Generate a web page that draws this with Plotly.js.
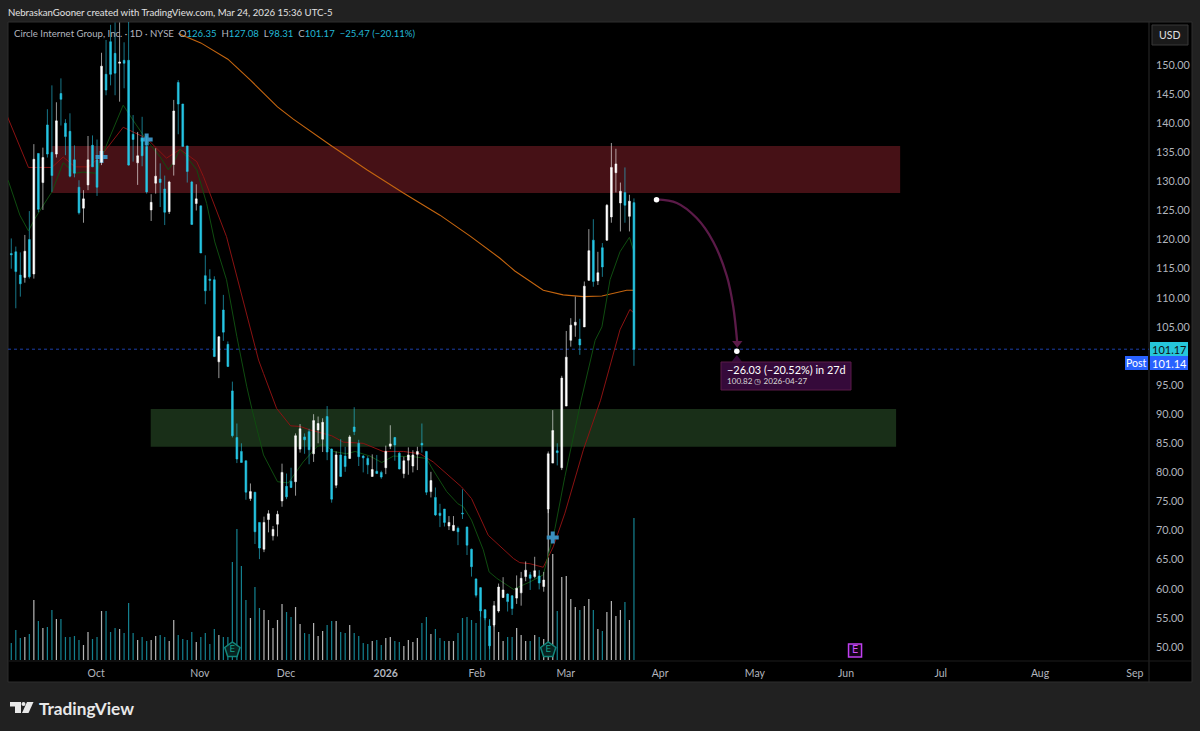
<!DOCTYPE html>
<html><head><meta charset="utf-8">
<script src="https://cdn.plot.ly/plotly-3.0.1.min.js"></script>
<style>html,body{margin:0;padding:0;background:#212121;overflow:hidden}#c{width:1200px;height:731px}</style>
</head><body><div id="c"></div>
<script>
const opens=[117.6,117.9,113.9,113.5,120.0,114.1,134.8,129.8,139.7,135,
134.7,145.1,140,138.6,133.7,129,125.4,129.4,136.2,133.7,
133.3,148.4,154,152,150.3,150.8,150.8,138.1,133.2,137.4,
136,125.1,129.7,130.4,128.7,124.8,132.9,147,143.3,136.1,
129.9,126.2,125.8,113.8,113.2,113.1,99.0,107.9,102,94,
86,83.6,82,75.5,76.6,71.4,66.8,71.9,69.1,71.1,
75.1,77.6,78.5,78.4,84,86.1,87,83.2,87.3,85.7,
89.6,84,77.8,83,82.8,82.4,87.8,85,82.8,82.4,
79.3,80.2,80,80.8,84.5,86,83.3,79.8,82.1,81.1,
83.1,85,83.6,76.7,75.7,73,73.7,70.8,70,70.4,
73,70.6,66.8,61.7,60.2,56.4,53.6,53.8,56.2,58.5,
59.1,58.8,58.4,59.3,62.1,62.4,62.1,62.2,60.4,73.7,
81.6,83.7,80.8,91.4,102.7,105.3,102.9,105,113,119.9,
112.9,118.6,119.9,123.9,131.5,126.3,128.1,124,126.35];
const highs=[120.2,118.8,117.8,120.8,124.9,136.4,134.8,135.8,142.4,146.5,
143.6,147.7,140.7,141.7,136.2,130.2,128.5,137.8,137.9,137.2,
152.1,154.3,156.9,157.3,157.3,153.9,158,141.4,138.5,141.1,
137.8,127.8,135.7,133.1,131,130.1,144,147.4,143.3,136.1,
130.1,129.5,125.8,117.3,114.9,113.7,103.4,110.5,102.5,95.6,
88.4,85,82,78.1,76.6,71.4,72.4,73.5,70.8,73.4,
81.5,79.8,80.8,86.7,88.3,86.7,87.5,90,89.6,89.3,
91.4,84.1,83.6,85.7,84.4,86.4,91.2,85.6,83,82.8,
83.1,83,80.3,84.6,88.1,86.1,83.5,82.7,84.3,83.8,
84.4,88.4,83.7,80.1,77.4,74.6,73.7,72.5,72.5,70.7,
77.1,70.7,66.9,61.8,60.3,56.5,54.6,57.9,60.9,62,
59.2,58.9,62.3,62.9,64.7,62.9,65.5,63.2,62.9,83.6,
90.7,85,96.6,104.3,106.5,110.2,106.4,112.8,121.8,123.5,
117.9,119.4,126.1,136.6,135.6,129.8,132.4,127.7,127.08];
const lows=[115,108.2,110.2,112.6,113.3,113.3,124.7,125.1,134.1,128.2,
134.1,139.6,134.5,130.7,130.7,124.3,122.9,128.5,132.5,127.5,
132.8,144.8,146.5,144.8,143.7,146,132.7,133.4,129.4,132.6,
127.9,123.2,127.9,125.6,122.5,124.4,131,138.1,136,129.8,
122.6,125,117.7,108.9,111.2,100,96.2,102.6,98.1,86,
81.6,81.7,75.3,75.1,67.7,65.1,66.3,69.7,68.3,69,
74.1,75.4,77.3,76,83.4,83.2,81.4,81.8,85,83.5,
82.1,74.8,77.3,79.2,80.1,82.3,86.4,81.1,80,79.7,
79.3,79.8,78.9,79.7,84,82,80.5,79,79.6,80,
80.4,83.4,76.1,75.7,72.5,70.6,70.7,70.1,69.9,67.5,
72,65.8,62.1,58.5,55.2,54.6,49.7,53.5,55.9,58.4,
56.1,55.5,57.4,57.1,61.3,59.8,61.8,59.9,59.5,73,
81.6,81.2,80.4,91.4,101.6,103.3,100.2,105,112.9,111.9,
112.2,113.6,119.8,122.9,128.1,121.4,122.9,121.4,98.31];
const closes=[117.4,114.5,112.4,118,113.6,133.8,125.2,134.1,134.7,131,
140.4,144.1,137.7,130.9,131.4,124.6,127,133.7,132.5,129,
149.8,145.7,148.4,148.6,150.5,150.3,132.8,137.2,134.4,134.4,
128.2,126.4,130.9,129.8,124.7,129.9,142.1,143.3,136,131.7,
122.6,127,117.7,111.2,113,99.9,103.3,104.1,98.2,86.3,
82.3,81.7,76.6,76.7,69.8,67,71.4,72.9,70.2,72.8,
80,75.8,77.4,86.3,87.5,85.6,83.9,88.9,88.4,88.6,
83.5,75.4,83,79.3,81,86.1,87,82.7,82.5,81.3,
80.5,79.8,79.2,83.6,84.9,84.7,80.6,82,83,83,
83.6,84.7,76.6,78.6,72.7,72.6,71.4,71.4,70.9,69.8,
72.9,67.5,63.8,58.9,56.2,55,50.2,57.1,60.3,59.8,
57.8,56.6,60.1,61.8,63.2,61.8,63.1,61,61.5,83.2,
87.2,83.4,96.2,99.8,105.3,105.8,101.9,112,118.1,112.8,
114.3,115.3,125.9,132.4,133,128.3,125.9,126.6,101.17];
const volumes=[17,30,22,23,26,60,39,32,33,50,
41,41,23,23,24,20,15,28,21,23,
49,49,28,32,31,27,57,27,20,23,
19,20,24,25,23,19,40,25,21,20,
28,18,23,27,16,31,25,23,23,98,
131,94,60,42,73,52,50,40,32,40,
56,48,43,53,36,27,26,37,24,29,
35,39,39,28,27,35,27,24,17,16,
19,20,15,22,23,19,18,14,20,18,
22,37,43,26,31,22,19,19,19,27,
42,43,40,37,51,43,41,36,28,19,
23,23,32,25,19,19,25,23,21,160,
106,49,83,84,61,53,50,54,61,50,
31,29,48,59,44,50,58,40,142];
const longMaBars=[37,42,48,53,59,62.5,70.6,78.8,86.9,95,101.7,108.3,111.6,115,117.9,122.3,126.8,130.9,134.2,136.4,138];
const longMaVals=[155.4,153.8,151,147.4,142.8,140.7,136.3,132,128,124.2,120.6,116.8,114.6,112.9,111.3,110.5,110.2,110.3,110.9,111.3,111.3];
const redMaBars=[-1,1.9,3.8,5.6,9,11.5,14.1,17.1,19.7,24.8,30,34.4,37.4,41.1,42.6,47.7,50,54.8,55.9,58.8,61.9,64,66.2,71,73.6,78,82.4,86.9,90.6,93.5,99.8,102,105.7,111.3,112.7,115,117.9,120.1,122.7,126.8,130.6,134.9,137.1,138];
const redMaVals=[141.4,136,132.4,132.4,132.4,134.2,132.5,132.5,134.2,139.3,137.4,134,135.5,133.4,130.8,120.5,113.6,99.3,97,91,88,87.9,87.3,86.3,85.2,85,83.6,83.6,83.2,81.8,77.5,75.5,69.2,65.2,64.5,64.3,63.7,67.2,73,83.9,92.4,104.5,108,107.4];
const greenMaBars=[-0.7,1.9,3.8,5.3,7.1,9,11.5,14.1,15.9,18.9,20,24.8,27,30,33,34.8,35.9,37.4,38.9,41.1,43.3,45.1,47.7,50,52.2,53.3,55.9,59,61.4,62.9,64.7,67.7,69.2,71.4,74.3,76.2,79.5,82.1,84.7,89.1,92,93.5,96.5,99,100.2,102,104.6,105.9,107.6,111.3,115,117.9,120.5,122.7,126.3,129.4,130.9,132.7,134.9,137,138];
const greenMaVals=[130.2,124.2,121.5,123.7,125.9,128.2,133.2,131.4,131.6,131.4,134.2,143.1,140.5,137.1,134.2,132,133.2,135.5,134.2,132,126.2,119.6,113.1,103.3,94.7,91,83,78.4,78.2,79.8,81.8,84.4,84.9,83.6,83.2,83.6,82.8,81.7,82.8,82.7,82.4,80.4,76.7,74.6,74.1,71.8,66.7,62.9,61.8,59.9,61.2,62.4,70.4,79.3,92.4,102.7,105,113.1,117.9,120.4,117.9];
const projectionBars=[143,147.5,151.9,155.6,158.6,160,160.9];
const projectionVals=[126.9,126.3,123.7,119.6,113.7,108.5,102.2];
const monthBars=[18.8,41.8,60.9,83,103.2,122.9,143.8,164.8,185,206,228,249];
const monthLabels=['Oct','Nov','Dec','<b>2026</b>','Feb','Mar','Apr','May','Jun','Jul','Aug','Sep'];
const priceTicks=[50,55,60,65,70,75,80,85,90,95,105,110,115,120,125,130,135,140,145,150];
const splitBars=[20,30,120], splitVals=[134.2,137.2,68.8];
const earnBars=[49,119], earnVals=[49.5,49.5];
const futureEarnBars=[187], futureEarnVals=[49.4];
const lastClose=101.17;

const UP='#ffffff',DOWN='#26c6e4',VUP='#b4b4b4',VDOWN='#14808f';
const bars=opens.map((_,i)=>i);
const px=x=>(x-8)/1141, py=y=>(660-y)/638;
const rectP=(x0,y0,x1,y1,fill,line)=>({type:'rect',xref:'paper',yref:'paper',x0:px(x0),x1:px(x1),y0:py(y0),y1:py(y1),fillcolor:fill,line:{color:line||fill,width:line?1:0},layer:'below'});
const polyP=(pts,fill)=>({type:'path',xref:'paper',yref:'paper',path:'M '+pts.map(p=>px(p[0])+' '+py(p[1])).join(' L ')+' Z',fillcolor:fill,line:{width:0},layer:'above'});
const txt=(x,y,t,o)=>Object.assign({xref:'paper',yref:'paper',x:px(x),y:py(y),text:t,showarrow:false,xanchor:'left',yanchor:'middle',font:{family:'Lato, sans-serif',size:11,color:'#c8c8c8'}},o||{});
const cy=s=>'<span style="color:#22b8d6">'+s+'</span>';

const traces=[
 {type:'bar',x:bars,y:volumes,yaxis:'y',width:0.27,marker:{color:bars.map(i=>closes[i]>=opens[i]?VUP:VDOWN),line:{width:0}},hoverinfo:'skip'},
 {type:'scatter',mode:'lines',x:longMaBars,y:longMaVals,yaxis:'y2',line:{color:'#c4650f',width:1.1},hoverinfo:'skip'},
 {type:'scatter',mode:'lines',x:redMaBars,y:redMaVals,yaxis:'y2',line:{color:'#8a1212',width:1},hoverinfo:'skip'},
 {type:'scatter',mode:'lines',x:greenMaBars,y:greenMaVals,yaxis:'y2',line:{color:'#0f4d10',width:1},hoverinfo:'skip'},
 {type:'scatter',mode:'markers',x:splitBars,y:splitVals,yaxis:'y2',marker:{symbol:'cross',size:10,color:'#3a8fbe',line:{width:0}},hoverinfo:'skip'},
 {type:'candlestick',x:bars,open:opens,high:highs,low:lows,close:closes,yaxis:'y3',whiskerwidth:0,
  increasing:{line:{color:UP,width:0.6},fillcolor:UP},decreasing:{line:{color:DOWN,width:0.6},fillcolor:DOWN},hoverinfo:'skip'},
 {type:'scatter',mode:'lines',x:projectionBars,y:projectionVals,yaxis:'y3',line:{color:'#5b1a48',width:2.3,shape:'spline'},hoverinfo:'skip'},
 {type:'scatter',mode:'markers',x:[projectionBars[6]],y:[projectionVals[6]],yaxis:'y3',marker:{symbol:'triangle-down',size:9,color:'#5b1a48'},hoverinfo:'skip'},
 {type:'scatter',mode:'markers',x:[143,160.8],y:[126.85,100.82],yaxis:'y3',marker:{color:'#ffffff',size:5.5},hoverinfo:'skip'},
 {type:'scatter',mode:'markers',x:[160.8],y:[99.4],yaxis:'y3',marker:{symbol:'triangle-up',size:9,color:'#350a3a'},hoverinfo:'skip'},
 {type:'scatter',mode:'markers+text',x:earnBars,y:earnVals,yaxis:'y3',text:['E','E'],textposition:'middle center',textfont:{family:'DejaVu Sans',size:9,color:'#14a08c'},marker:{symbol:'pentagon',size:16,color:'#07211f',line:{color:'#12857a',width:1.5}},hoverinfo:'skip'},
 {type:'scatter',mode:'markers+text',x:futureEarnBars,y:futureEarnVals,yaxis:'y3',text:['E'],textposition:'middle center',textfont:{family:'DejaVu Sans',size:10,color:'#d050ff'},marker:{symbol:'square',size:13,color:'#14041a',line:{color:'#c040f0',width:1.5}},hoverinfo:'skip'}
];
const priceRange=[150-(660-65)/5.82,150+(65-22)/5.82];
const layout={
 width:1200,height:731,margin:{l:8,r:51,t:22,b:71},showlegend:false,dragmode:false,barmode:'overlay',boxgap:0.44,
 paper_bgcolor:'#212121',plot_bgcolor:'#000000',hovermode:false,
 font:{family:'Lato, sans-serif',size:11,color:'#b2b5be'},
 xaxis:{range:[-0.73,252.15],showgrid:false,zeroline:false,showline:false,ticks:'',tickmode:'array',tickvals:monthBars,ticktext:monthLabels,tickangle:0,tickfont:{size:10.5,color:'#b2b5be'},ticklabelstandoff:5,rangeslider:{visible:false},fixedrange:true},
 yaxis:{range:[0,638],visible:false,fixedrange:true},
 yaxis2:{overlaying:'y',range:priceRange,side:'right',showgrid:false,zeroline:false,showline:false,ticks:'',tickmode:'array',tickvals:priceTicks,tickformat:'.2f',tickfont:{size:10.8,color:'#b2b5be'},ticklabelstandoff:6,fixedrange:true},
 yaxis3:{overlaying:'y',range:priceRange,visible:false,fixedrange:true},
 shapes:[
  rectP(8,22,1192,682,'#000000','#2f2f2f'),
  {type:'line',xref:'paper',yref:'paper',x0:px(1149),x1:px(1149),y0:py(22),y1:py(682),line:{color:'#2a2a2a',width:1},layer:'below'},
  {type:'line',xref:'paper',yref:'paper',x0:px(8),x1:px(1192),y0:py(661),y1:py(661),line:{color:'#1c1c1c',width:1},layer:'below'},
  {type:'rect',xref:'x',yref:'y2',x0:8.95,x1:197,y0:128,y1:136.1,fillcolor:'#461116',line:{width:0},layer:'below'},
  {type:'rect',xref:'x',yref:'y2',x0:30.9,x1:196.1,y0:84.4,y1:90.9,fillcolor:'#192f18',line:{width:0},layer:'below'},
  {type:'line',xref:'paper',yref:'y2',x0:0,x1:1,y0:lastClose,y1:lastClose,line:{color:'#1c3fa8',width:1,dash:'dot'},layer:'below'},
  Object.assign(rectP(1152,25,1188,45,'#1a1a1a','#383838'),{layer:'above'}),
  Object.assign(rectP(721,362,851,390,'#350a3a','#5b1a48'),{layer:'above'}),
  Object.assign(rectP(1150,342,1188,356,'#26c6da'),{layer:'above'}),
  Object.assign(rectP(1150,356,1188,370,'#2962ff'),{layer:'above'}),
  Object.assign(rectP(1125,356,1148,370,'#2962ff'),{layer:'above'}),
  polyP([[10,702],[21,702],[21,713],[15,713],[15,706.5],[10,706.5]],'#e8e8e8'),
  {type:'circle',xref:'paper',yref:'paper',x0:px(21.5),x1:px(25.5),y0:py(702),y1:py(706),fillcolor:'#e8e8e8',line:{width:0},layer:'above'},
  polyP([[27,702],[33.5,702],[28.5,713],[22,713]],'#e8e8e8')
 ],
 annotations:[
  txt(6,12,'NebraskanGooner created with TradingView.com, Mar 24, 2026 15:36 UTC-5',{font:{family:'Lato, sans-serif',size:9.6,color:'#e2e2e2'}}),
  txt(12,33,'Circle Internet Group, Inc. · 1D · NYSE  O'+cy('126.35')+'  H'+cy('127.08')+'  L'+cy('98.31')+'  C'+cy('101.17')+'  '+cy('−25.47 (−20.11%)'),{font:{family:'Lato, sans-serif',size:9.6,color:'#b2b5be'}}),
  txt(1170,35,'USD',{xanchor:'center',font:{family:'Lato, sans-serif',size:10.5,color:'#e0e0e0'}}),
  txt(1169,349,'101.17',{xanchor:'center',font:{family:'Lato, sans-serif',size:11,color:'#101010'}}),
  txt(1169,363,'101.14',{xanchor:'center',font:{family:'Lato, sans-serif',size:11,color:'#ffffff'}}),
  txt(1136.5,363,'Post',{xanchor:'center',font:{family:'Lato, sans-serif',size:10.5,color:'#ffffff'}}),
  txt(725,369.5,'−26.03 (−20.52%) in 27d',{font:{family:'Lato, sans-serif',size:10.9,color:'#ffffff'}}),
  txt(725,381,'100.82 ◷ 2026-04-27',{font:{family:'Lato, sans-serif',size:8.1,color:'#d8d8d8'}}),
  txt(37,708,'<b>TradingView</b>',{font:{family:'Lato, sans-serif',size:17.2,color:'#e8e8e8'}})
 ]
};
Plotly.newPlot('c',traces,layout,{displayModeBar:false,staticPlot:true});
</script></body></html>
